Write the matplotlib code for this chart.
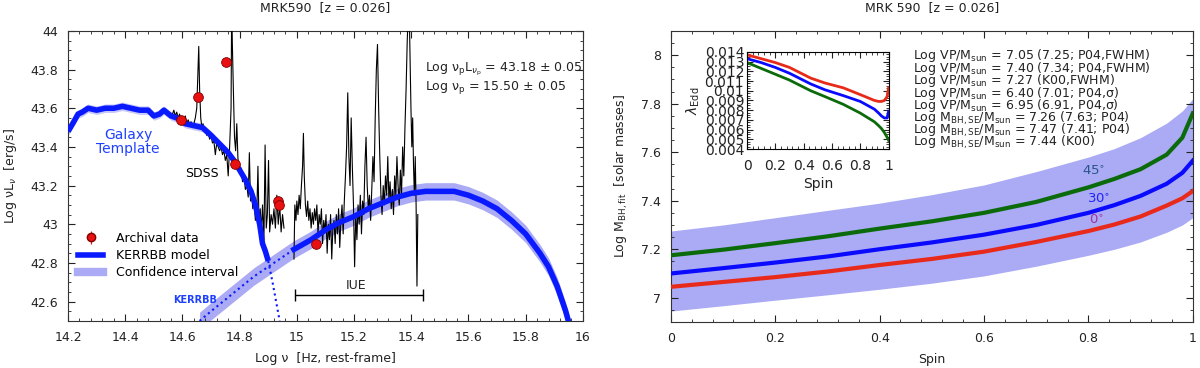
import numpy as np
import matplotlib
matplotlib.use("Agg")
import matplotlib.pyplot as plt
from matplotlib.ticker import MultipleLocator
from matplotlib.lines import Line2D

# ---------------- left panel data ----------------
# archival photometry
arch_logv = [14.596, 14.656, 14.752, 14.783, 14.935, 14.938, 15.067]
arch_logl = [43.54, 43.66, 43.84, 43.31, 43.12, 43.10, 42.90]

# galaxy template (solid part, then dotted tail)
gal_logv = [14.20, 14.22, 14.235, 14.25, 14.27, 14.30, 14.33, 14.36, 14.39, 14.42,
            14.45, 14.48, 14.50, 14.52, 14.535, 14.56, 14.58, 14.61, 14.64, 14.67,
            14.70, 14.72, 14.74, 14.76, 14.78, 14.80, 14.82, 14.84, 14.855, 14.87,
            14.88, 14.89, 14.90]
gal_logl = [43.48, 43.53, 43.57, 43.58, 43.60, 43.59, 43.60, 43.60, 43.61, 43.60,
            43.59, 43.59, 43.56, 43.57, 43.59, 43.56, 43.55, 43.52, 43.51, 43.50,
            43.46, 43.43, 43.40, 43.37, 43.33, 43.28, 43.23, 43.17, 43.10, 43.00,
            42.90, 42.86, 42.81]
gal_tail_logv = [14.90, 14.915, 14.93, 14.94]
gal_tail_logl = [42.81, 42.70, 42.58, 42.50]

# KERRBB model
kerr_logv = [14.66, 14.70, 14.75, 14.80, 14.85, 14.90, 14.95, 14.99, 15.05, 15.10,
             15.15, 15.20, 15.25, 15.30, 15.35, 15.40, 15.45, 15.50, 15.55, 15.60,
             15.65, 15.70, 15.75, 15.80, 15.85, 15.88, 15.91, 15.94, 15.955]
kerr_logl = [42.50, 42.55, 42.61, 42.67, 42.73, 42.78, 42.83, 42.87, 42.92, 42.97,
             43.01, 43.04, 43.08, 43.11, 43.14, 43.16, 43.17, 43.17, 43.17, 43.15,
             43.12, 43.08, 43.02, 42.95, 42.85, 42.78, 42.68, 42.55, 42.47]
kerr_split = 14.99  # model dotted below this frequency

# SDSS spectrum
sdss_logv = [14.565, 14.570, 14.575, 14.580, 14.585, 14.590, 14.595, 14.600, 14.605, 14.610,
             14.615, 14.620, 14.625, 14.630, 14.635, 14.640, 14.645, 14.650, 14.654, 14.657,
             14.660, 14.664, 14.668, 14.672, 14.676, 14.680, 14.685, 14.690, 14.695, 14.700,
             14.705, 14.710, 14.715, 14.720, 14.725, 14.730, 14.735, 14.740, 14.745, 14.750,
             14.755, 14.760, 14.765, 14.770, 14.772, 14.775, 14.778, 14.782, 14.786, 14.790,
             14.794, 14.798, 14.802, 14.806, 14.810, 14.815, 14.820, 14.825, 14.830, 14.834,
             14.838, 14.842, 14.846, 14.850, 14.855, 14.860, 14.864, 14.868, 14.872, 14.876,
             14.880, 14.885, 14.889, 14.893, 14.897, 14.901, 14.905, 14.910, 14.915, 14.920,
             14.925, 14.930, 14.935, 14.940, 14.945, 14.950, 14.955]
sdss_logl = [43.57, 43.59, 43.56, 43.58, 43.55, 43.57, 43.52, 43.55, 43.53, 43.56,
             43.52, 43.54, 43.51, 43.53, 43.50, 43.52, 43.55, 43.60, 43.78, 43.92,
             43.70, 43.55, 43.50, 43.52, 43.48, 43.50, 43.46, 43.48, 43.44, 43.46,
             43.42, 43.43, 43.36, 43.42, 43.40, 43.38, 43.40, 43.36, 43.38, 43.33,
             43.36, 43.25, 43.40, 43.60, 44.10, 43.90, 43.70, 43.45, 43.38, 43.52,
             43.34, 43.30, 43.27, 43.29, 43.22, 43.25, 43.18, 43.20, 43.14, 43.37,
             43.12, 43.16, 43.08, 43.12, 43.02, 43.06, 43.30, 42.98, 43.08, 42.96,
             43.10, 42.92, 43.41, 42.98, 43.05, 43.33, 42.96, 43.05, 43.00, 43.08,
             42.98, 43.15, 43.00, 43.10, 42.96, 43.05, 42.98]

# IUE spectrum
iue_logv = [14.990, 14.993, 14.997, 15.000, 15.004, 15.008, 15.012, 15.016, 15.020, 15.023,
            15.026, 15.030, 15.034, 15.038, 15.042, 15.046, 15.050, 15.054, 15.058, 15.062,
            15.066, 15.070, 15.074, 15.078, 15.082, 15.086, 15.090, 15.094, 15.098, 15.102,
            15.106, 15.110, 15.114, 15.118, 15.122, 15.126, 15.130, 15.134, 15.138, 15.142,
            15.146, 15.150, 15.154, 15.158, 15.162, 15.166, 15.170, 15.174, 15.178, 15.182,
            15.186, 15.190, 15.194, 15.198, 15.202, 15.206, 15.210, 15.214, 15.218, 15.222,
            15.226, 15.230, 15.234, 15.238, 15.242, 15.246, 15.250, 15.254, 15.258, 15.262,
            15.266, 15.270, 15.274, 15.278, 15.282, 15.286, 15.290, 15.294, 15.298, 15.302,
            15.306, 15.310, 15.314, 15.318, 15.322, 15.326, 15.330, 15.334, 15.338, 15.342,
            15.346, 15.350, 15.354, 15.358, 15.362, 15.366, 15.370, 15.374, 15.378, 15.382,
            15.386, 15.390, 15.393, 15.396, 15.399, 15.402, 15.405, 15.408, 15.411, 15.414,
            15.417, 15.420, 15.423]
iue_logl = [42.82, 43.10, 43.02, 43.12, 43.05, 43.15, 43.08, 43.20, 43.30, 43.47,
            43.25, 43.10, 43.04, 43.12, 43.02, 43.08, 42.98, 43.06, 43.00, 43.08,
            43.02, 43.10, 42.95, 43.05, 43.00, 43.08, 42.90, 43.02, 42.96, 43.05,
            42.85, 43.00, 42.92, 43.05, 42.82, 42.98, 43.02, 42.90, 43.05, 42.95,
            43.08, 42.88, 43.02, 43.10, 42.95, 43.12, 43.25, 43.40, 43.68, 43.35,
            43.20, 43.55, 43.30, 43.10, 42.78, 43.05, 42.92, 43.10, 43.00, 43.15,
            42.95, 43.12, 43.05, 43.30, 43.45, 43.20, 43.08, 43.15, 43.02, 43.18,
            43.35, 43.22, 43.55, 43.80, 43.93, 43.60, 43.35, 43.15, 43.05, 43.20,
            43.10, 43.25, 43.15, 43.35, 43.12, 43.22, 43.08, 43.18, 43.05, 43.25,
            43.15, 43.35, 43.20, 43.10, 43.28, 43.15, 43.40, 43.25, 43.50, 43.70,
            43.95, 44.10, 44.10, 43.85, 43.60, 43.40, 43.55, 43.30, 43.15, 43.35,
            43.10, 42.68, 43.05]

# ---------------- right panel data ----------------
spin = [0.0, 0.1, 0.2, 0.3, 0.4, 0.5, 0.6, 0.7, 0.8, 0.85, 0.9, 0.95, 0.98, 1.0]
mbh_0 = [7.045, 7.065, 7.085, 7.108, 7.135, 7.160, 7.190, 7.230, 7.275, 7.302, 7.335, 7.380, 7.410, 7.440]
mbh_30 = [7.100, 7.122, 7.145, 7.170, 7.200, 7.228, 7.260, 7.300, 7.350, 7.382, 7.420, 7.470, 7.515, 7.565]
mbh_45 = [7.175, 7.198, 7.225, 7.253, 7.285, 7.315, 7.350, 7.395, 7.455, 7.490, 7.530, 7.590, 7.660, 7.760]
band_hi = [7.275, 7.300, 7.330, 7.360, 7.390, 7.425, 7.465, 7.520, 7.580, 7.615, 7.660, 7.720, 7.770, 7.820]
band_lo = [6.945, 6.967, 6.990, 7.012, 7.035, 7.060, 7.090, 7.130, 7.175, 7.200, 7.230, 7.270, 7.300, 7.330]

# inset: Eddington ratio vs spin
in_spin = [0.0, 0.1, 0.2, 0.3, 0.45, 0.55, 0.68, 0.8, 0.9, 0.93, 0.95, 0.97, 0.99, 1.0]
edd_0 = [0.0137, 0.0133, 0.0129, 0.0124, 0.0113, 0.0108, 0.0103, 0.0096, 0.0090, 0.0089, 0.0089, 0.0090, 0.0094, 0.0103]
edd_30 = [0.0133, 0.0129, 0.0124, 0.0118, 0.0107, 0.0101, 0.0095, 0.0089, 0.0081, 0.0077, 0.0074, 0.0072, 0.0072, 0.0079]
edd_45 = [0.0129, 0.0123, 0.0117, 0.0111, 0.0100, 0.0094, 0.0086, 0.0077, 0.0068, 0.0064, 0.0061, 0.0057, 0.0052, 0.0049]

mass_lines = [
    r"Log VP/M$_{\rm sun}$ = 7.05 (7.25; P04,FWHM)",
    r"Log VP/M$_{\rm sun}$ = 7.40 (7.34; P04,FWHM)",
    r"Log VP/M$_{\rm sun}$ = 7.27 (K00,FWHM)",
    r"Log VP/M$_{\rm sun}$ = 6.40 (7.01; P04,σ)",
    r"Log VP/M$_{\rm sun}$ = 6.95 (6.91, P04,σ)",
    r"Log M$_{\rm BH,SE}$/M$_{\rm sun}$ = 7.26 (7.63; P04)",
    r"Log M$_{\rm BH,SE}$/M$_{\rm sun}$ = 7.47 (7.41; P04)",
    r"Log M$_{\rm BH,SE}$/M$_{\rm sun}$ = 7.44 (K00)",
]

BAND = "#aaaaf5"
TXT = "#222222"

plt.rcParams['font.family'] = ['DejaVu Sans']
plt.rcParams['font.size'] = 9

fig = plt.figure(figsize=(12, 3.68), dpi=100)
ax1 = fig.add_axes([0.0567, 0.128, 0.429, 0.788])
ax2 = fig.add_axes([0.559, 0.125, 0.435, 0.791])


def style_axes(ax):
    ax.tick_params(which='both', direction='in', top=True, right=True, colors=TXT, labelcolor=TXT, labelsize=9)
    ax.tick_params(which='major', length=5, pad=7)
    ax.tick_params(which='minor', length=2.5)
    for s in ax.spines.values():
        s.set_color('#333333')


# ---- left panel ----
gx = np.array(gal_logv)
gy = np.array(gal_logl)
ax1.fill_between(gx, gy - 0.022, gy + 0.022, color="#c8c8fa", lw=0, zorder=1)
kx = np.array(kerr_logv)
ky = np.array(kerr_logl)
ax1.fill_between(kx, ky - 0.045, ky + 0.045, color=BAND, lw=0, zorder=1)

ax1.plot(sdss_logv, sdss_logl, color='black', lw=0.8, zorder=3)
ax1.plot(iue_logv, iue_logl, color='black', lw=0.8, zorder=3)

ax1.plot(gx, gy, color='#0a1aff', lw=4, zorder=4, solid_capstyle='butt')
ax1.plot(gal_tail_logv, gal_tail_logl, color='#0a1aff', lw=1.5, ls=':', zorder=4)
solid = kx >= kerr_split
ax1.plot(kx[solid], ky[solid], color='#0a1aff', lw=4, zorder=4)
ax1.plot(kx[kx <= kerr_split + 0.001], ky[kx <= kerr_split + 0.001], color='#0a1aff', lw=1.5, ls=':', zorder=4)

ax1.plot(arch_logv, arch_logl, 'o', color='#e81010', mec='#800000', mew=0.6, ms=7, zorder=5)

# IUE range bar
ax1.errorbar([(14.993 + 15.441) / 2], [42.636], xerr=[(15.441 - 14.993) / 2], color='black', lw=1,
             capsize=4.5, capthick=1)
ax1.text(15.206, 42.683, 'IUE', ha='center', va='center', fontsize=9, color=TXT)
ax1.text(14.667, 43.26, 'SDSS', ha='center', va='center', fontsize=9, color='black')
ax1.text(14.41, 43.425, 'Galaxy\nTemplate', ha='center', va='center', fontsize=10, color='#2040ff', linespacing=1.0)
ax1.text(14.645, 42.607, 'KERRBB', ha='center', va='center', fontsize=7, color='#2040ff', fontweight='bold')
ax1.text(15.448, 43.80, r'Log ν$_{\rm p}$L$_{ν_{\rm p}}$ = 43.18 ± 0.05', fontsize=9, color=TXT, va='center')
ax1.text(15.448, 43.705, r'Log ν$_{\rm p}$ = 15.50 ± 0.05', fontsize=9, color=TXT, va='center')

h1 = ax1.errorbar([], [], yerr=[], fmt='o', color='#e81010', mec='#800000', ms=6, capsize=2, elinewidth=0.8)
h2 = Line2D([], [], color='#0a1aff', lw=4)
h3 = Line2D([], [], color=BAND, lw=6)
ax1.legend([h1, h2, h3], ['Archival data', 'KERRBB model', 'Confidence interval'], loc='upper left',
           bbox_to_anchor=(0.01, 0.325), frameon=False, fontsize=9, handlelength=2.0, labelspacing=0.35,
           borderaxespad=0.0, handletextpad=1.0)

ax1.set_xlim(14.2, 16)
ax1.set_ylim(42.5, 44)
ax1.xaxis.set_minor_locator(MultipleLocator(0.04))
ax1.yaxis.set_minor_locator(MultipleLocator(0.05))
ax1.set_xticks(np.arange(14.2, 16.01, 0.2))
ax1.set_xticklabels(['14.2', '14.4', '14.6', '14.8', '15', '15.2', '15.4', '15.6', '15.8', '16'])
ax1.set_yticks(np.arange(42.6, 44.01, 0.2))
ax1.set_yticklabels(['42.6', '42.8', '43', '43.2', '43.4', '43.6', '43.8', '44'])
ax1.set_xlabel('Log ν  [Hz, rest-frame]', color=TXT, labelpad=6)
ax1.set_ylabel(r'Log νL$_{ν}$  [erg/s]', color=TXT, labelpad=8)
ax1.set_title('MRK590  [z = 0.026]', fontsize=9, color=TXT, pad=14)
style_axes(ax1)

# ---- right panel ----
ax2.fill_between(spin, band_lo, band_hi, color=BAND, lw=0, zorder=1)
ax2.plot(spin, mbh_45, color='#0b6b0b', lw=3, zorder=3)
ax2.plot(spin, mbh_30, color='#0a0aff', lw=3, zorder=3)
ax2.plot(spin, mbh_0, color='#e82a1a', lw=3, zorder=3)
ax2.text(0.81, 7.52, r'45$^{\circ}$', color='#27558a', fontsize=9.5, ha='center', va='center')
ax2.text(0.82, 7.405, r'30$^{\circ}$', color='#2020ff', fontsize=9.5, ha='center', va='center')
ax2.text(0.815, 7.32, r'0$^{\circ}$', color='#a030a0', fontsize=9.5, ha='center', va='center')
for i, line in enumerate(mass_lines):
    ax2.text(0.464, 7.997 - i * 0.0512, line, fontsize=9, color=TXT, va='center', ha='left')

ax2.set_xlim(0, 1)
ax2.set_ylim(6.9, 8.1)
ax2.set_xticks([0, 0.2, 0.4, 0.6, 0.8, 1])
ax2.set_xticklabels(['0', '0.2', '0.4', '0.6', '0.8', '1'])
ax2.xaxis.set_minor_locator(MultipleLocator(0.04))
ax2.set_yticks([7, 7.2, 7.4, 7.6, 7.8, 8])
ax2.set_yticklabels(['7', '7.2', '7.4', '7.6', '7.8', '8'])
ax2.yaxis.set_minor_locator(MultipleLocator(0.05))
ax2.set_xlabel('Spin', color=TXT, labelpad=6)
ax2.set_ylabel(r'Log M$_{\rm BH,fit}$  [solar masses]', color=TXT, labelpad=8)
ax2.set_title('MRK 590  [z = 0.026]', fontsize=9, color=TXT, pad=14)
style_axes(ax2)

# ---- inset ----
axi = fig.add_axes([0.6225, 0.595, 0.118, 0.264])
axi.plot(in_spin, edd_0, color='#e82a1a', lw=2)
axi.plot(in_spin, edd_30, color='#0a0aff', lw=2)
axi.plot(in_spin, edd_45, color='#0b6b0b', lw=2)
axi.set_xlim(0, 1)
axi.set_ylim(0.004, 0.014)
axi.set_xticks([0, 0.2, 0.4, 0.6, 0.8, 1])
axi.set_xticklabels(['0', '0.2', '0.4', '0.6', '0.8', '1'])
axi.xaxis.set_minor_locator(MultipleLocator(0.04))
axi.set_yticks(np.arange(0.004, 0.01401, 0.001))
axi.set_yticklabels(['0.004', '0.005', '0.006', '0.007', '0.008', '0.009', '0.01',
                     '0.011', '0.012', '0.013', '0.014'])
axi.yaxis.set_minor_locator(MultipleLocator(0.00025))
axi.tick_params(which='both', direction='in', top=True, right=True, labelsize=10, colors=TXT)
axi.tick_params(which='major', length=4, pad=2)
axi.tick_params(which='minor', length=2)
axi.tick_params(axis='x', pad=7)
axi.set_xlabel('Spin', color=TXT, labelpad=3, fontsize=10)
axi.set_ylabel(r'$\lambda_{\rm Edd}$', color=TXT, labelpad=2, fontsize=10)

fig.savefig('out.png', dpi=100)
